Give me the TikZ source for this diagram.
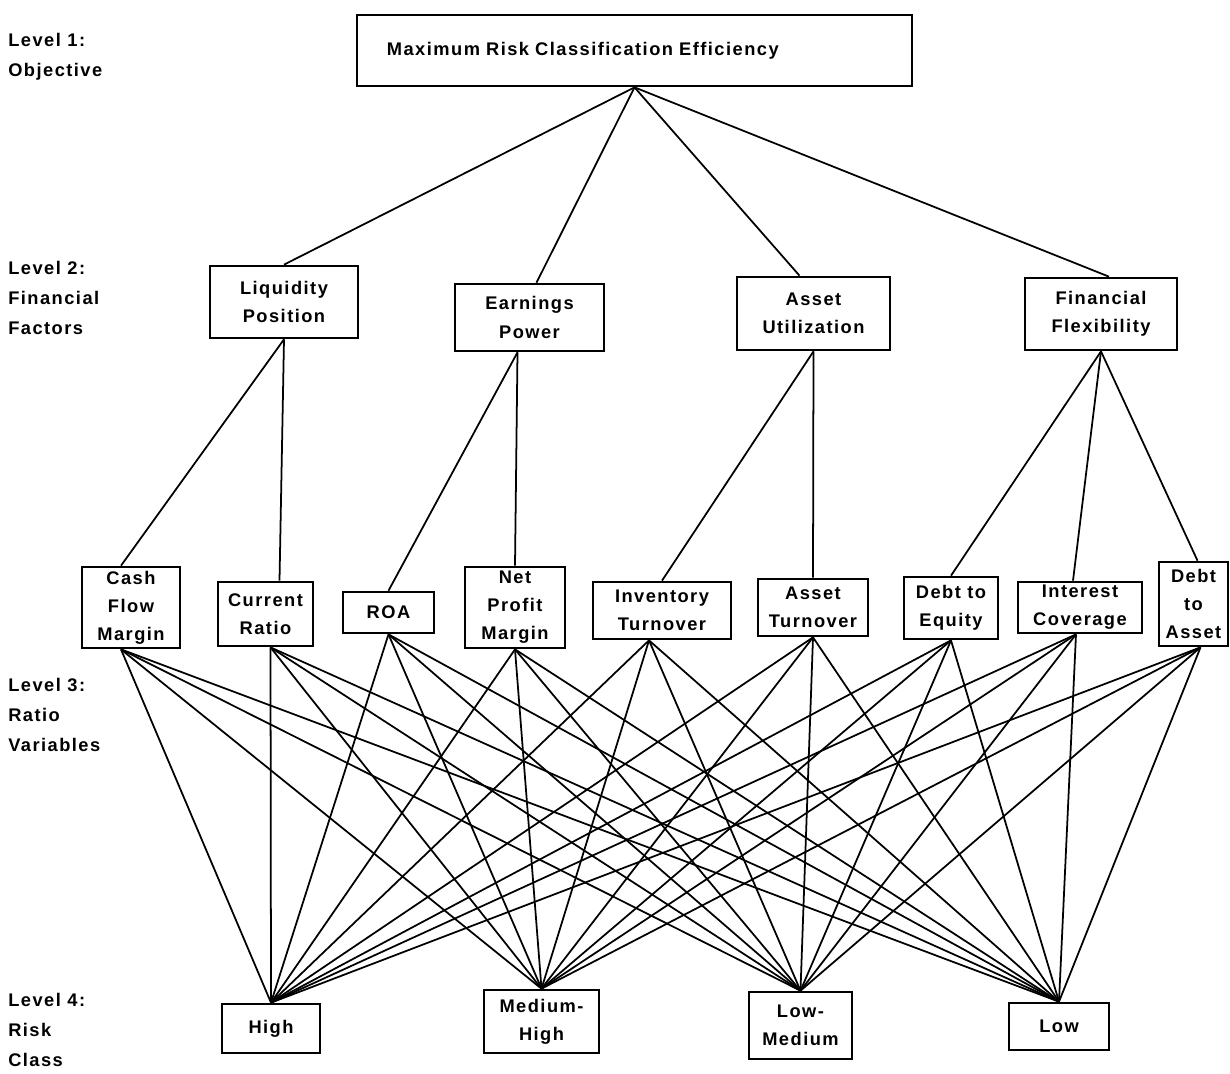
\documentclass[tikz,border=0pt]{standalone}
\usepackage{fontspec}
\setmainfont{Liberation Sans}[LetterSpace=8]
\usepackage{tikz}
\usetikzlibrary{positioning, calc}
\tikzstyle{boxnode} = [rectangle, draw=black, line width=1.9pt, inner sep=0pt, align=center, font=\fontsize{13}{20}\selectfont\bfseries]
\tikzstyle{levellabel} = [anchor=west, align=left, inner sep=0pt, font=\fontsize{13}{21.3}\selectfont\bfseries]
\tikzstyle{link} = [line width=1.25pt]

\begin{document}
\begin{tikzpicture}[x=0.025cm, y=-0.025cm]
    \useasboundingbox (0,0) rectangle (1230,1073);

    % === LEFT SIDE: level labels ===
    \node (lv1) [levellabel] at (8,57) {Level 1:\\Objective};
    \node (lv2) [levellabel] at (8,298) {Level 2:\\Financial\\Factors};
    \node (lv3) [levellabel] at (8,715) {Level 3:\\Ratio\\Variables};
    \node (lv4) [levellabel] at (8,1030) {Level 4:\\Risk\\Class};

    % Level 1: objective
    \node (obj) [boxnode, minimum width=13.875cm, minimum height=1.775cm, text width=12.375cm, align=left] at (634.5,50.5) {Maximum Risk Classification Efficiency};

    % Level 2: financial factors
    \node (liq) [boxnode, minimum width=3.7cm, minimum height=1.8cm] at (284,302) {Liquidity\\Position};
    \node (earn) [boxnode, minimum width=3.725cm, minimum height=1.675cm] at (529.5,317.5) {Earnings\\Power};
    \node (asset) [boxnode, minimum width=3.825cm, minimum height=1.825cm] at (813.5,313.5) {Asset\\Utilization};
    \node (fin) [boxnode, minimum width=3.8cm, minimum height=1.8cm] at (1101,314) {Financial\\Flexibility};

    % Level 3: ratio variables
    \node (cfm) [boxnode, minimum width=2.45cm, minimum height=2.025cm] at (131,607.5) {Cash\\Flow\\Margin};
    \node (cr) [boxnode, minimum width=2.375cm, minimum height=1.6cm] at (265.5,614) {Current\\Ratio};
    \node (roa) [boxnode, minimum width=2.275cm, minimum height=1.025cm] at (388.5,612.5) {ROA};
    \node (npm) [boxnode, minimum width=2.5cm, minimum height=2.025cm] at (515,607.5) {Net\\Profit\\Margin};
    \node (inv) [boxnode, minimum width=3.45cm, minimum height=1.425cm] at (662,610.5) {Inventory\\Turnover};
    \node (at) [boxnode, minimum width=2.75cm, minimum height=1.425cm] at (813,607.5) {Asset\\Turnover};
    \node (dte) [boxnode, minimum width=2.35cm, minimum height=1.55cm] at (951,608) {Debt to\\Equity};
    \node (ic) [boxnode, minimum width=3.1cm, minimum height=1.275cm] at (1080,607.5) {Interest\\Coverage};
    \node (dta) [boxnode, minimum width=1.725cm, minimum height=2.1cm] at (1193.5,604) {Debt\\to\\Asset};

    % Level 4: risk classes
    \node (high) [boxnode, minimum width=2.45cm, minimum height=1.225cm] at (271,1028.5) {High};
    \node (medhi) [boxnode, minimum width=2.875cm, minimum height=1.575cm] at (541.5,1021.5) {Medium-\\High};
    \node (lowmed) [boxnode, minimum width=2.575cm, minimum height=1.675cm] at (800.5,1025.5) {Low-\\Medium};
    \node (low) [boxnode, minimum width=2.5cm, minimum height=1.175cm] at (1059,1026.5) {Low};

    % === CONNECTIONS ===

    % objective to factors
    \draw [link] (obj.south) -- (liq.north);
    \draw [link] (obj.south) -- ([xshift=0.175cm]earn.north);
    \draw [link] (obj.south) -- ([xshift=-0.35cm]asset.north);
    \draw [link] (obj.south) -- ([xshift=0.2cm]fin.north);

    % factors to ratios
    \draw [link] (liq.south) -- ([xshift=-0.25cm]cfm.north);
    \draw [link] (liq.south) -- ([xshift=0.35cm]cr.north);
    \draw [link] ([xshift=-0.3cm]earn.south) -- (roa.north);
    \draw [link] ([xshift=-0.3cm]earn.south) -- (npm.north);
    \draw [link] (asset.south) -- (inv.north);
    \draw [link] (asset.south) -- (at.north);
    \draw [link] (fin.south) -- (dte.north);
    \draw [link] (fin.south) -- ([xshift=-0.175cm]ic.north);
    \draw [link] (fin.south) -- ([xshift=0.1cm]dta.north);

    % every ratio to every risk class
    \foreach \r/\s in {cfm/-0.25, cr/0.125, roa/0, npm/0, inv/-0.325, at/0, dte/0, ic/-0.1, dta/0.175}
        \foreach \c in {high, medhi, lowmed, low}
            \draw [link] ([xshift=\s cm]\r.south) -- (\c.north);

\end{tikzpicture}
\end{document}
